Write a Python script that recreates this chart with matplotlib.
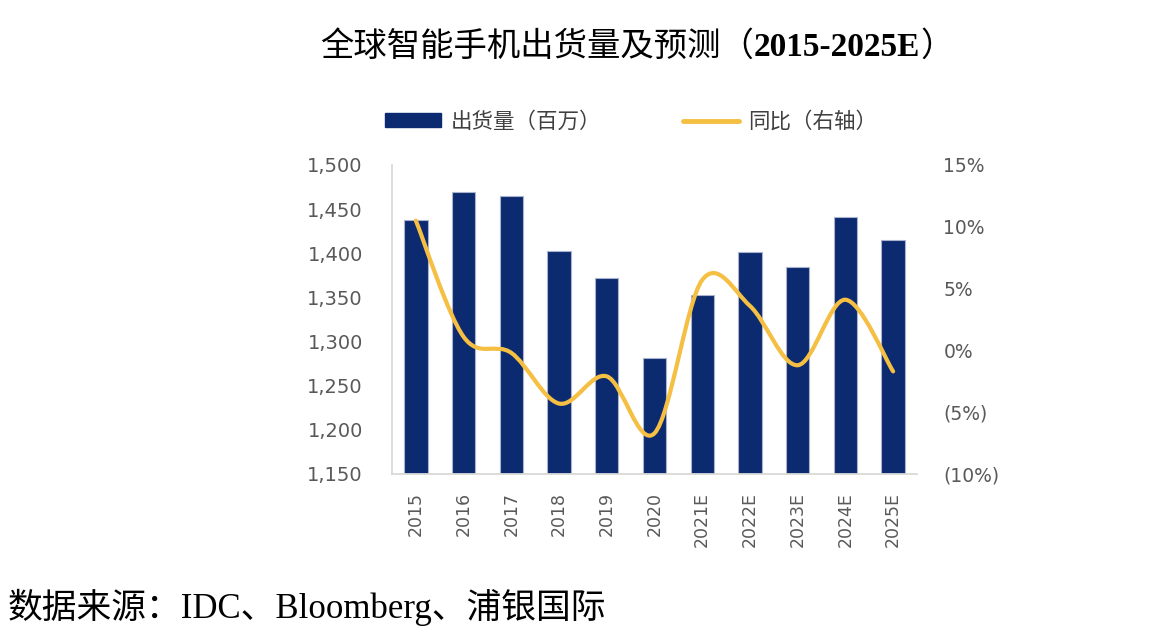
import matplotlib
matplotlib.use('Agg')
import matplotlib.pyplot as plt
from matplotlib.path import Path
from matplotlib.patches import PathPatch, Patch
from matplotlib.lines import Line2D
import numpy as np

# 数据
years = ['2015', '2016', '2017', '2018', '2019', '2020',
         '2021E', '2022E', '2023E', '2024E', '2025E']
shipments = [1438, 1469, 1465, 1403, 1372, 1281, 1353, 1401, 1385, 1441, 1415]
yoy = [10.5, 1.1, -0.2, -4.3, -2.1, -6.7, 5.7, 3.6, -1.2, 4.1, -1.7]
left_ticks = [1150, 1200, 1250, 1300, 1350, 1400, 1450, 1500]
right_ticks = [-10, -5, 0, 5, 10, 15]

BAR_COLOR = '#0B2A6F'
LINE_COLOR = '#F4BF42'
TICK_COLOR = '#595959'
CJK = 'Noto Sans CJK SC'

W, H = 1174, 644
fig = plt.figure(figsize=(W / 100, H / 100), dpi=100)
ax = fig.add_axes([392 / W, 1 - 474 / H, 525 / W, 309 / H])

x = np.arange(len(years))
ax.bar(x, shipments, width=0.49, color=BAR_COLOR, edgecolor='#A9B3CE', linewidth=0.8)
ax.set_xlim(-0.5, len(years) - 0.5)
ax.set_ylim(1150, 1500)
ax.set_yticks(left_ticks)
ax.set_yticklabels([f'{v:,}' for v in left_ticks])
ax.set_xticks(x)
ax.set_xticklabels(years, rotation=90)
ax.tick_params(axis='y', length=0, pad=21, labelsize=14, labelcolor=TICK_COLOR)
ax.tick_params(axis='x', length=0, pad=13, labelsize=12.5, labelcolor=TICK_COLOR)
for s in ['top', 'right']:
    ax.spines[s].set_visible(False)
for s in ['left', 'bottom']:
    ax.spines[s].set_color('#D9D9D9')
    ax.spines[s].set_linewidth(1.3)

# 右轴：同比，平滑曲线（类似Excel的平滑线）
ax2 = ax.twinx()
ax2.set_ylim(-10, 15)
ax2.set_yticks(right_ticks)
ax2.set_yticklabels([f'{v}%' if v >= 0 else f'({-v}%)' for v in right_ticks])
ax2.tick_params(axis='y', length=0, pad=19, labelsize=13.5, labelcolor=TICK_COLOR)
for s in ax2.spines.values():
    s.set_visible(False)

pts = np.column_stack([x, yoy]).astype(float)
verts = [pts[0]]
codes = [Path.MOVETO]
n = len(pts)
for i in range(n - 1):
    p0 = pts[max(i - 1, 0)]
    p1 = pts[i]
    p2 = pts[i + 1]
    p3 = pts[min(i + 2, n - 1)]
    verts += [p1 + (p2 - p0) / 6, p2 - (p3 - p1) / 6, p2]
    codes += [Path.CURVE4] * 3
ax2.add_patch(PathPatch(Path(verts, codes), facecolor='none', edgecolor=LINE_COLOR,
                        linewidth=3, capstyle='round', joinstyle='round'))

# 图例
handles = [Patch(facecolor=BAR_COLOR, edgecolor=BAR_COLOR),
           Line2D([0], [0], color=LINE_COLOR, linewidth=3.5, solid_capstyle='round')]
fig.legend(handles, ['出货量（百万）', '同比（右轴）'], loc='center',
           bbox_to_anchor=(631 / W, 1 - 122 / H), ncol=2, frameon=False,
           prop={'family': CJK, 'size': 15.5}, labelcolor='#404040',
           handlelength=2.6, handleheight=0.62, columnspacing=3.8, handletextpad=0.45)

# 标题：中文 + 粗体数字，分段拼接
renderer = fig.canvas.get_renderer()
pieces = [('全球智能手机出货量及预测（', dict(family=CJK, fontsize=24)),
          ('2015-2025E', dict(family='Liberation Serif', fontsize=24, fontweight='bold')),
          ('）', dict(family=CJK, fontsize=24))]
texts = []
xs = 0.0
for txt, kw in pieces:
    t = fig.text(xs, 1 - 56 / H, txt, ha='left', va='baseline', color='black', **kw)
    texts.append((t, xs))
    xs += t.get_window_extent(renderer).width / fig.bbox.width
shift = 637 / W - xs / 2
for t, x0 in texts:
    t.set_x(x0 + shift)

# 数据来源
fig.text(8 / W, 1 - 618 / H, '数据来源：IDC、Bloomberg、浦银国际', ha='left', va='baseline',
         family=['Liberation Serif', CJK], fontsize=25, color='black')

fig.savefig('out.png', dpi=100)
